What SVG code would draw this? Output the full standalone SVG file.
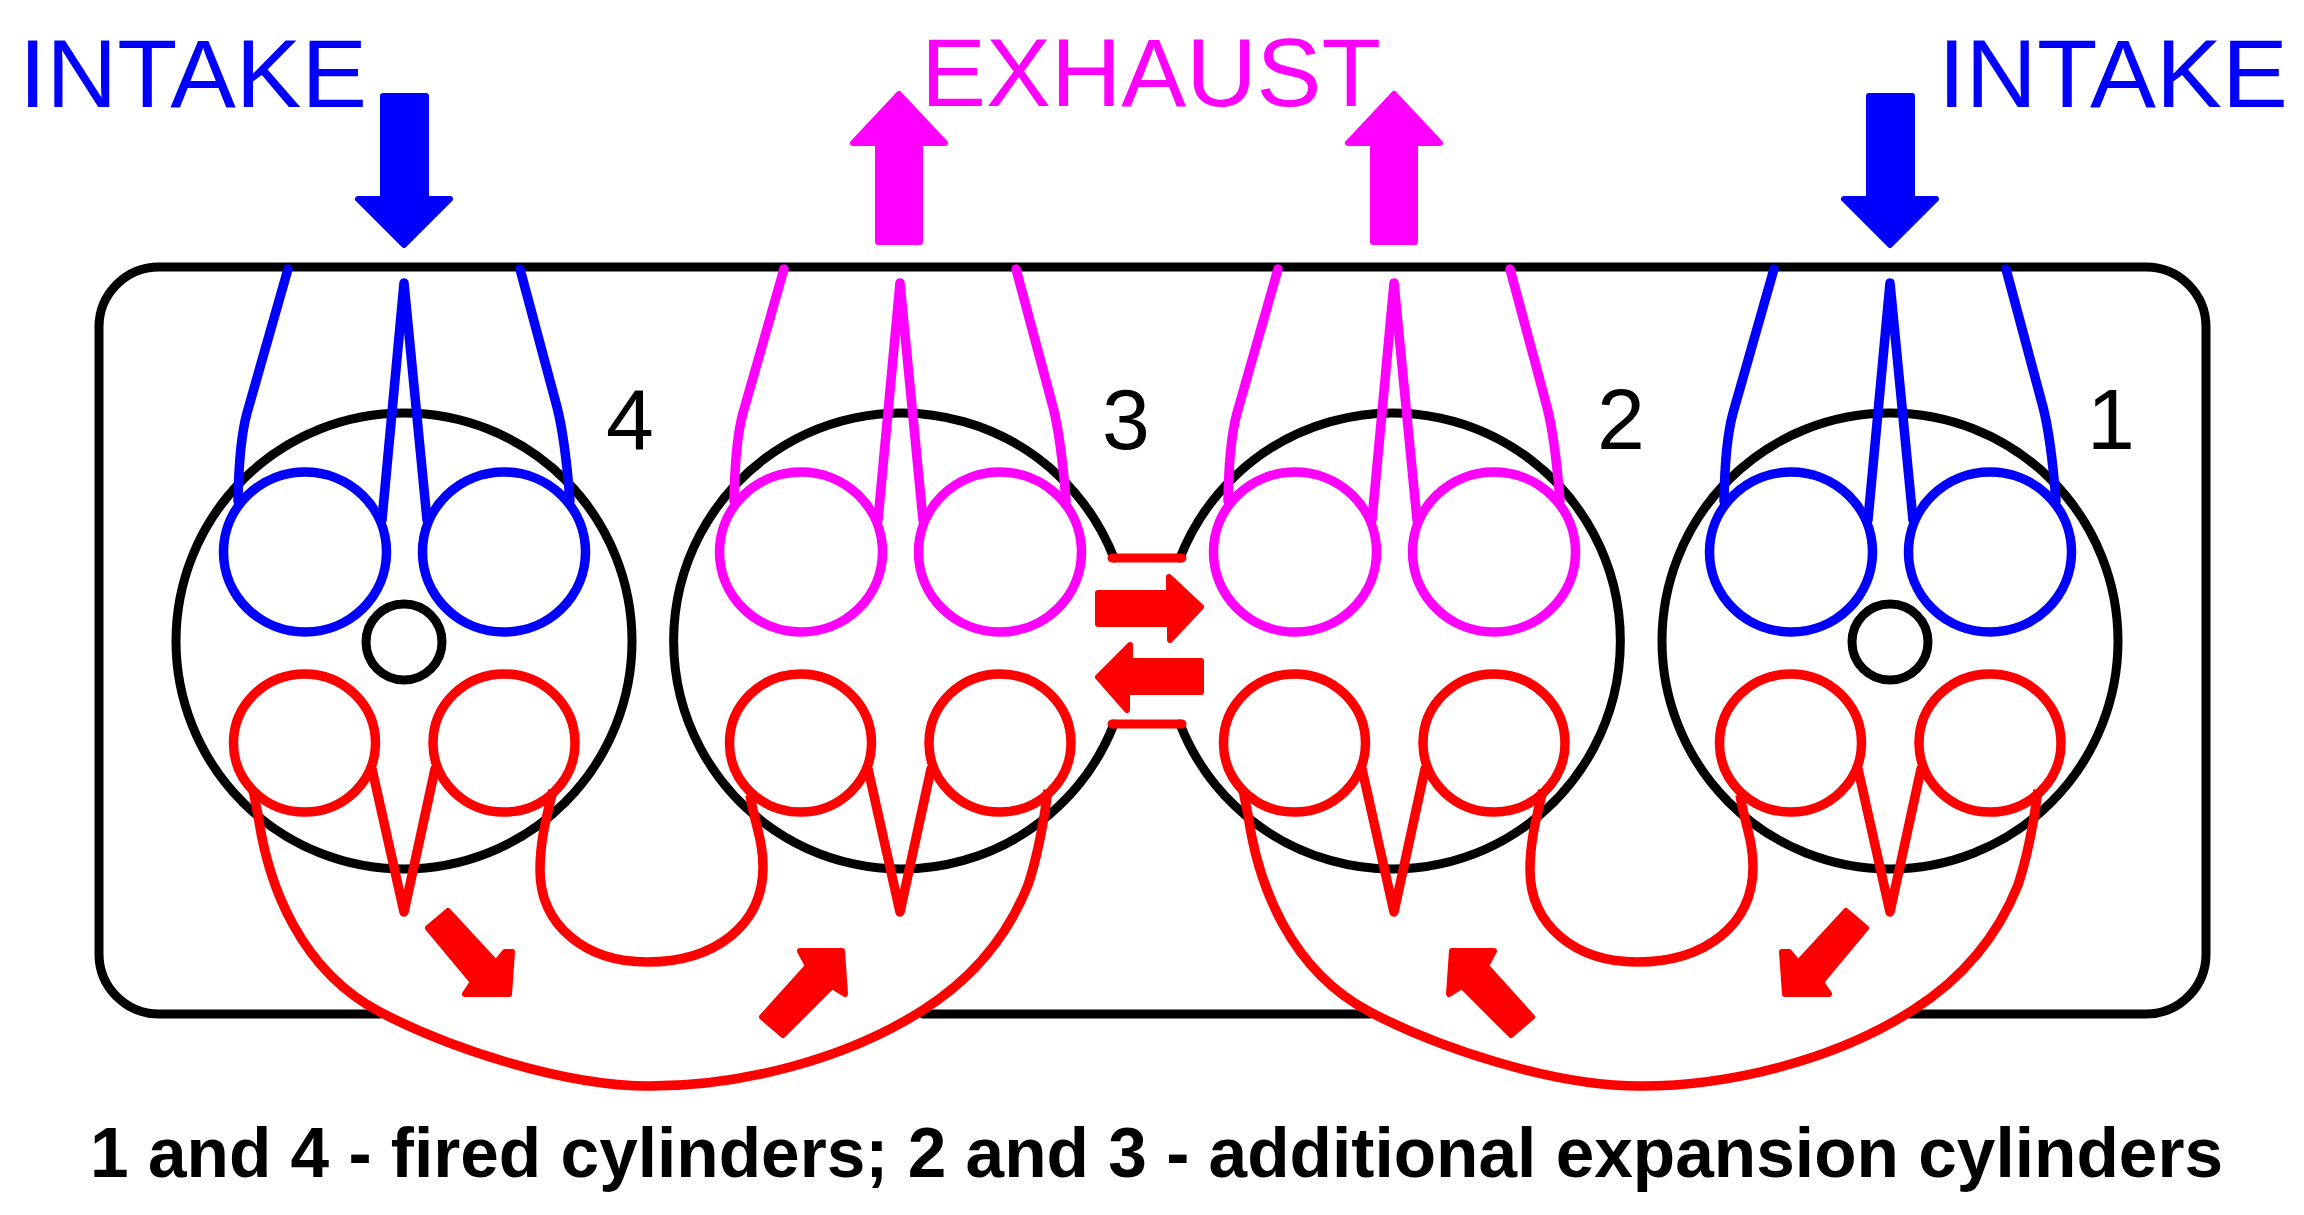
<svg xmlns="http://www.w3.org/2000/svg" width="2304" height="1215" viewBox="0 0 2304 1215">
<style>
text{font-family:"Liberation Sans",Arial,sans-serif}
.lab{font-size:97px}
.num{font-size:86px;fill:#000}
.cap{font-size:70px;font-weight:bold;fill:#000}
.bl{fill:none;stroke:#000;stroke-width:9;stroke-linecap:round}
.blue{stroke:#0000ff;stroke-width:9.5;fill:none;stroke-linejoin:round}
.mag{stroke:#ff00ff;stroke-width:9.5;fill:none;stroke-linejoin:round}
.red{stroke:#ff0000;stroke-width:9.5;fill:none;stroke-linejoin:round}
.line{stroke:#ff0000;stroke-width:9;fill:none;stroke-linecap:round}
.arB{fill:#0000ff;stroke:#0000ff;stroke-width:6;stroke-linejoin:round}
.arM{fill:#ff00ff;stroke:#ff00ff;stroke-width:6;stroke-linejoin:round}
.arR{fill:#ff0000;stroke:#ff0000;stroke-width:6;stroke-linejoin:round}
</style>
<defs>
<g id="top-valves">
<ellipse cx="-99" cy="-89" rx="81.5" ry="80"/>
<ellipse cx="100" cy="-89" rx="81.5" ry="80"/>
<path d="M-116 -372L-157 -228Q-165 -199 -166 -140M116 -372L153 -234Q161 -203 166 -140M-22 -121L0 -358L23 -121" stroke-linecap="round"/>
</g>
<g id="bottom-valves">
<ellipse cx="-99.5" cy="102" rx="71" ry="69"/>
<ellipse cx="100" cy="102" rx="71" ry="69"/>
<path d="M-32 128L0 271L31 128" stroke-linecap="round"/>
</g>
<path id="big-duct" d="M253 790L258 815C268 885 300 970 380 1012C445 1046 560 1086 650 1086C740 1086 845 1060 923 1010C975 977 1008 935 1028 885C1038 855 1044 820 1048 790"/>
<path id="small-duct" d="M553 790C547 815 540 840 540 870C540 925 585 962 647 962C715 962 763 925 763 867C763 840 755 825 750 795"/>
</defs>

<g id="block"><path class="bl" d="M380 1014H159A60 60 0 0 1 99 954V327A60 60 0 0 1 159 267H2146A60 60 0 0 1 2206 327V954A60 60 0 0 1 2146 1014H1910M1370 1014H923"/></g>

<g id="cylinder-4">
<circle class="bl" cx="404" cy="641" r="228"/>
<circle class="bl" cx="404" cy="642" r="38"/>
<use href="#top-valves" x="404" y="641" class="blue"/>
<use href="#bottom-valves" x="404" y="641" class="red"/>
<text class="num" x="606" y="449">4</text>
</g>
<g id="cylinder-3">
<path class="bl" d="M1114 558A228 228 0 1 0 1114 724"/>
<use href="#top-valves" x="900" y="641" class="mag"/>
<use href="#bottom-valves" x="900" y="641" class="red"/>
<text class="num" x="1102" y="449">3</text>
</g>
<g id="cylinder-2">
<path class="bl" d="M1180 558A228 228 0 1 1 1180 724"/>
<use href="#top-valves" x="1394" y="641" class="mag"/>
<use href="#bottom-valves" x="1394" y="641" class="red"/>
<text class="num" x="1597" y="449">2</text>
</g>
<g id="cylinder-1">
<circle class="bl" cx="1890" cy="641" r="228"/>
<circle class="bl" cx="1890" cy="642" r="38"/>
<use href="#top-valves" x="1890" y="641" class="blue"/>
<use href="#bottom-valves" x="1890" y="641" class="red"/>
<text class="num" x="2087" y="449">1</text>
</g>

<g id="connectors">
<use href="#big-duct" class="red"/>
<use href="#small-duct" class="red"/>
<use href="#big-duct" x="990" class="red"/>
<use href="#small-duct" x="990" class="red"/>
<path class="line" d="M1112 558H1182M1112 724H1182"/>
<path class="arR" d="M1098 593H1169V577L1201 607L1170 640V624H1098Z"/>
<path class="arR" d="M1201 661H1130V645L1098 677L1127 710V692H1201Z"/>
<path class="arB" d="M383 96H426V199H450L404 245L358 199H383Z"/>
<path class="arB" d="M1869 96H1912V199H1936L1890 245L1844 199H1869Z"/>
<path class="arM" d="M878 242H920V143H945L899 94L853 143H878Z"/>
<path class="arM" d="M1373 242H1415V143H1440L1394 94L1348 143H1373Z"/>
<path class="arR" d="M448 911L428 928L473 982L465 994H509L512 952L505 952L496 963Z"/>
<path class="arR" d="M762 1017L783 1035L832 986L845 994L842 951H800L808 966Z"/>
<path class="arR" d="M1532 1017L1511 1035L1462 986L1449 994L1452 951H1494L1486 966Z"/>
<path class="arR" d="M1846 911L1866 928L1821 982L1829 994H1785L1782 952L1789 952L1798 963Z"/>
</g>

<g id="labels">
<text class="lab" x="19" y="107" fill="#0000ff" textLength="348" lengthAdjust="spacingAndGlyphs">INTAKE</text>
<text class="lab" x="1938" y="107" fill="#0000ff" textLength="350" lengthAdjust="spacingAndGlyphs">INTAKE</text>
<text class="lab" x="921" y="106" fill="#ff00ff" textLength="460" lengthAdjust="spacingAndGlyphs">EXHAUST</text>
<text class="cap" x="90" y="1177" textLength="2133" lengthAdjust="spacingAndGlyphs">1 and 4 - fired cylinders; 2 and 3 - additional expansion cylinders</text>
</g>
</svg>
